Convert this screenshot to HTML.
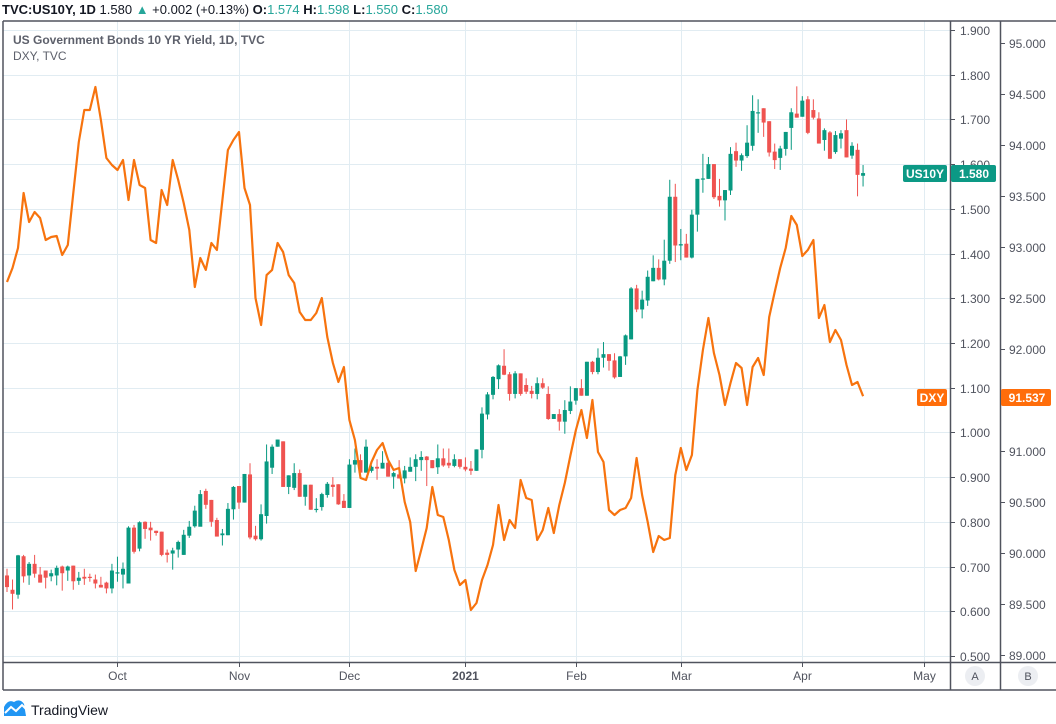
<!DOCTYPE html>
<html><head><meta charset="utf-8">
<style>
html,body{margin:0;padding:0;background:#fff;}
body{width:1056px;height:719px;overflow:hidden;font-family:"Liberation Sans",sans-serif;}
svg text{font-family:"Liberation Sans",sans-serif;}
</style></head>
<body>
<svg id="chart" width="1056" height="719" viewBox="0 0 1056 719" xmlns="http://www.w3.org/2000/svg">
  <g id="grid"></g>
  <g id="candles"></g>
  <g id="dxy"></g>
  <g id="frame">
    <line x1="3" y1="21" x2="1056" y2="21" stroke="#50535e" stroke-width="1.5"/>
    <line x1="3" y1="21" x2="3" y2="690" stroke="#50535e" stroke-width="1.5"/>
    <line x1="950.5" y1="21" x2="950.5" y2="690" stroke="#50535e" stroke-width="1.5"/>
    <line x1="1000.5" y1="21" x2="1000.5" y2="690" stroke="#50535e" stroke-width="1.5"/>
    <line x1="3" y1="662.5" x2="1056" y2="662.5" stroke="#50535e" stroke-width="1.5"/>
    <line x1="3" y1="690" x2="1056" y2="690" stroke="#50535e" stroke-width="1.5"/>
  </g>
  <g id="yaxis1"></g>
  <g id="yaxis2"></g>
  <g id="xaxis"></g>
  <text x="2" y="14" font-size="13" fill="#131722"><tspan font-weight="bold">TVC:US10Y, 1D</tspan>  1.580 <tspan fill="#26a69a">▲</tspan> +0.002 (+0.13%) <tspan font-weight="bold">O:</tspan><tspan fill="#26a69a">1.574</tspan> <tspan font-weight="bold">H:</tspan><tspan fill="#26a69a">1.598</tspan> <tspan font-weight="bold">L:</tspan><tspan fill="#26a69a">1.550</tspan> <tspan font-weight="bold">C:</tspan><tspan fill="#26a69a">1.580</tspan></text>
  <text x="13" y="44" font-size="12" font-weight="bold" fill="#5d606b">US Government Bonds 10 YR Yield, 1D, TVC</text>
  <text x="13" y="60" font-size="12" fill="#5d606b">DXY, TVC</text>
  <g>
    <rect x="903" y="165" width="44" height="17" rx="2" fill="#0c9985"/>
    <text x="925" y="178" font-size="12" font-weight="bold" fill="#fff" text-anchor="middle">US10Y</text>
    <rect x="951" y="165" width="45" height="17" rx="2" fill="#0c9985"/>
    <text x="974" y="178" font-size="12" font-weight="bold" fill="#fff" text-anchor="middle">1.580</text>
  </g>
  <g>
    <rect x="917" y="389" width="30" height="17" rx="2" fill="#ff6d0a"/>
    <text x="932" y="402" font-size="12" font-weight="bold" fill="#fff" text-anchor="middle">DXY</text>
    <rect x="1001" y="389" width="50" height="17" rx="2" fill="#ff6d0a"/>
    <text x="1027" y="402" font-size="12" font-weight="bold" fill="#fff" text-anchor="middle">91.537</text>
  </g>
  <g>
    <circle cx="975" cy="676" r="10" fill="#eceef2"/>
    <text x="975" y="680" font-size="11" fill="#50535e" text-anchor="middle">A</text>
  </g>
  <g>
    <circle cx="1028" cy="676" r="10" fill="#eceef2"/>
    <text x="1028" y="680" font-size="11" fill="#50535e" text-anchor="middle">B</text>
  </g>
  <g>
    <path d="M4 716 L4 707 Q8 699 14 702 Q20 698 24 704 L26 716 Z" fill="#2196f3"/>
    <path d="M5 713 L11 707 L16 711 L22 705 L26 709" fill="none" stroke="#fff" stroke-width="2"/>
    <text x="31" y="715" font-size="14" fill="#131722">TradingView</text>
  </g>
</svg>
<script>
const closes=[0.654,0.639,0.725,0.678,0.706,0.684,0.664,0.675,0.685,0.697,0.685,0.700,0.667,0.675,0.673,0.676,0.662,0.653,0.651,0.691,0.687,0.695,0.787,0.733,0.799,0.784,0.781,0.775,0.726,0.726,0.736,0.755,0.771,0.789,0.825,0.862,0.838,0.800,0.767,0.774,0.829,0.878,0.843,0.907,
0.765,0.761,0.817,0.935,0.968,0.984,0.878,0.904,0.909,0.856,0.883,0.827,0.829,0.862,0.885,0.878,0.839,0.831,0.928,0.938,0.910,0.968,0.923,0.919,0.932,0.901,0.909,0.897,0.915,0.923,0.940,0.945,0.938,0.920,0.942,0.926,0.926,0.940,0.923,0.917,0.914,0.962,1.042,1.085,
1.124,1.150,1.129,1.086,1.132,1.086,1.091,1.086,1.110,1.100,1.030,1.041,1.024,1.050,1.069,1.099,1.082,1.158,1.135,1.167,1.175,1.160,1.123,1.170,1.217,1.322,1.275,1.297,1.348,1.368,1.342,1.384,1.527,1.418,
1.421,1.391,1.487,1.567,1.568,1.600,1.526,1.519,1.542,1.623,1.608,1.620,1.648,1.719,1.716,1.693,1.626,1.609,1.635,1.672,1.716,1.704,1.742,1.670,1.704,1.646,1.676,1.612,1.665,1.669,1.615,1.641,1.576,1.580];
const opens=[0.680,0.648,0.637,0.723,0.680,0.706,0.682,0.691,0.678,0.680,0.700,0.691,0.702,0.668,0.677,0.677,0.671,0.659,0.664,0.651,0.686,0.682,0.662,0.787,0.740,0.800,0.787,0.780,0.778,0.731,0.729,0.738,0.726,0.769,0.790,0.789,0.869,0.849,0.804,0.770,0.770,0.828,0.880,0.843,
0.906,0.769,0.761,0.813,0.921,0.968,0.980,0.878,0.876,0.909,0.856,0.883,0.827,0.833,0.860,0.883,0.884,0.847,0.831,0.928,0.938,0.910,0.914,0.923,0.919,0.932,0.901,0.906,0.897,0.912,0.923,0.938,0.946,0.938,0.922,0.942,0.932,0.925,0.940,0.923,0.919,0.914,0.961,1.040,
1.084,1.119,1.149,1.130,1.086,1.132,1.106,1.093,1.086,1.110,1.086,1.030,1.041,1.024,1.048,1.071,1.099,1.082,1.158,1.135,1.167,1.175,1.161,1.124,1.170,1.208,1.322,1.275,1.295,1.338,1.368,1.342,1.384,1.527,
1.418,1.422,1.391,1.487,1.566,1.567,1.600,1.529,1.519,1.541,1.629,1.608,1.618,1.641,1.714,1.725,1.696,1.628,1.614,1.634,1.681,1.713,1.706,1.745,1.721,1.702,1.654,1.671,1.627,1.657,1.676,1.619,1.632,1.574];
const highs=[0.695,0.671,0.726,0.726,0.710,0.726,0.699,0.691,0.693,0.702,0.702,0.702,0.702,0.688,0.695,0.684,0.682,0.677,0.666,0.706,0.722,0.709,0.790,0.793,0.801,0.801,0.800,0.780,0.778,0.738,0.742,0.758,0.782,0.802,0.836,0.871,0.874,0.849,0.809,0.784,0.842,0.880,0.880,0.907,
0.931,0.791,0.839,0.973,0.973,0.984,0.980,0.904,0.931,0.917,0.883,0.883,0.853,0.865,0.889,0.900,0.884,0.862,0.940,0.964,0.951,0.984,0.926,0.940,0.958,0.940,0.912,0.938,0.925,0.944,0.951,0.958,0.947,0.938,0.973,0.964,0.964,0.951,0.940,0.944,0.936,0.962,1.056,1.090,
1.126,1.152,1.186,1.135,1.137,1.132,1.121,1.104,1.123,1.121,1.103,1.041,1.052,1.072,1.103,1.099,1.119,1.158,1.160,1.188,1.202,1.175,1.177,1.171,1.219,1.325,1.330,1.317,1.362,1.396,1.387,1.431,1.565,1.556,
1.455,1.444,1.498,1.567,1.623,1.616,1.600,1.567,1.542,1.638,1.648,1.624,1.687,1.754,1.745,1.725,1.696,1.646,1.641,1.672,1.725,1.774,1.752,1.752,1.745,1.716,1.680,1.674,1.674,1.676,1.700,1.649,1.646,1.598];
const lows=[0.643,0.604,0.628,0.664,0.659,0.675,0.664,0.651,0.667,0.658,0.646,0.668,0.648,0.659,0.659,0.666,0.651,0.653,0.640,0.640,0.666,0.651,0.662,0.729,0.734,0.762,0.758,0.769,0.723,0.709,0.693,0.720,0.726,0.764,0.787,0.805,0.829,0.789,0.767,0.747,0.770,0.805,0.829,0.843,
0.761,0.758,0.758,0.796,0.907,0.968,0.878,0.862,0.871,0.856,0.836,0.827,0.821,0.825,0.854,0.856,0.838,0.831,0.831,0.910,0.910,0.910,0.910,0.894,0.919,0.901,0.874,0.897,0.886,0.912,0.891,0.914,0.880,0.920,0.907,0.923,0.920,0.922,0.919,0.913,0.905,0.914,0.942,1.029,
1.074,1.097,1.128,1.071,1.076,1.082,1.086,1.076,1.074,1.097,1.028,1.030,1.004,0.997,1.041,1.062,1.082,1.082,1.130,1.130,1.145,1.138,1.120,1.124,1.151,1.208,1.269,1.255,1.283,1.338,1.340,1.329,1.377,1.381,
1.385,1.391,1.389,1.449,1.536,1.567,1.522,1.505,1.474,1.531,1.594,1.585,1.614,1.630,1.670,1.661,1.617,1.589,1.587,1.619,1.632,1.704,1.706,1.667,1.700,1.646,1.630,1.612,1.623,1.635,1.615,1.612,1.528,1.550];
const dxyValues=[92.657,92.794,92.990,93.529,93.245,93.343,93.284,93.069,93.098,93.108,92.922,93.020,93.529,94.029,94.343,94.343,94.569,94.245,93.873,93.804,93.755,93.853,93.461,93.853,93.608,93.578,93.069,93.039,93.559,93.412,93.853,93.657,93.431,93.167,92.608,92.892,92.775,93.039,92.971,93.461,93.951,94.049,94.127,93.578,93.412,92.500,92.235,92.725,92.775,93.039,92.951,92.725,92.647,92.363,92.284,92.284,92.353,92.500,92.118,91.863,91.676,91.824,91.304,91.108,90.735,90.716,90.892,91.010,91.078,90.912,90.814,90.833,90.500,90.304,89.824,90.029,90.245,90.647,90.373,90.353,90.127,89.833,89.686,89.735,89.441,89.510,89.735,89.882,90.078,90.471,90.127,90.324,90.245,90.716,90.539,90.520,90.127,90.225,90.441,90.196,90.471,90.686,90.951,91.206,91.402,91.127,91.500,90.990,90.892,90.422,90.373,90.422,90.441,90.539,90.931,90.569,90.304,90.010,90.167,90.127,90.147,90.765,91.029,90.814,90.961,91.598,91.990,92.304,91.961,91.745,91.451,91.667,91.863,91.814,91.451,91.824,91.912,91.745,92.314,92.559,92.794,92.990,93.304,93.216,92.912,92.971,93.069,92.304,92.431,92.069,92.186,92.088,91.843,91.647,91.676,91.537];
const yTicks1=["1.900","1.800","1.700","1.600","1.500","1.400","1.300","1.200","1.100","1.000","0.900","0.800","0.700","0.600","0.500"];
const yTicks2=["95.000","94.500","94.000","93.500","93.000","92.500","92.000","91.500","91.000","90.500","90.000","89.500","89.000"];
const monthLabels=["Oct","Nov","Dec","2021","Feb","Mar","Apr","May"];
const monthBarIndex=[20,42,62,83,103,122,144,166];

const NS="http://www.w3.org/2000/svg";
function xScale(i){return 7+i*5.523;}
function y1(v){return 30+(1.9-v)*447.1;}
function y2(v){return 43+(95-v)*102;}
function mk(tag,attrs,parent){const e=document.createElementNS(NS,tag);for(const k in attrs)e.setAttribute(k,attrs[k]);parent.appendChild(e);return e;}

const grid=document.getElementById('grid');
const ya1=document.getElementById('yaxis1');
const ya2=document.getElementById('yaxis2');
const xa=document.getElementById('xaxis');
yTicks1.forEach(t=>{
  const y=Math.round(y1(parseFloat(t)))+0.5;
  const g=mk('line',{x1:3,y1:y,x2:950,y2:y,stroke:'#e1ecf2','stroke-width':1},grid);
  
  
  mk('line',{x1:950,y1:y,x2:955,y2:y,stroke:'#50535e'},ya1);
  const tx=mk('text',{x:960,y:y+4.5,'font-size':12,fill:'#50535e'},ya1);
  tx.textContent=t;
  
  
});
yTicks2.forEach(t=>{
  const y=Math.round(y2(parseFloat(t)))+0.5;
  mk('line',{x1:1000,y1:y,x2:1005,y2:y,stroke:'#50535e'},ya2);
  const tx=mk('text',{x:1009,y:y+4.5,'font-size':12,fill:'#50535e'},ya2);
  tx.textContent=t;
  
  
});
monthLabels.forEach((m,k)=>{
  const x=Math.round(xScale(monthBarIndex[k]))+0.5;
  const g=mk('line',{x1:x,y1:21,x2:x,y2:662,stroke:'#e1ecf2','stroke-width':1},grid);
  
  
  mk('line',{x1:x,y1:662,x2:x,y2:667,stroke:'#50535e'},xa);
  const tx=mk('text',{x:x,y:680,'font-size':12,fill:'#50535e','text-anchor':'middle','font-weight':m==='2021'?'bold':'normal'},xa);
  tx.textContent=m;
  
  
});

const cg=document.getElementById('candles');
closes.forEach((c,i)=>{
  const o=opens[i],h=highs[i],l=lows[i];
  const up=c>=o;
  const col=up?'#089981':'#ef5350';
  const x=xScale(i);
  const g=mk('g',{},cg);
  
  
  mk('line',{x1:x,y1:y1(h),x2:x,y2:y1(l),stroke:col,'stroke-width':1},g);
  const top=y1(Math.max(o,c)),bot=y1(Math.min(o,c));
  mk('rect',{x:x-2,y:top,width:4,height:Math.max(1.2,bot-top),fill:col},g);
});

const dg=document.getElementById('dxy');
const pts=dxyValues.map((v,i)=>xScale(i).toFixed(1)+','+y2(v).toFixed(1)).join(' ');
const pl=mk('polyline',{points:pts,fill:'none',stroke:'#f7730e','stroke-width':2.2,'stroke-linejoin':'round'},dg);


</script>
</body></html>
